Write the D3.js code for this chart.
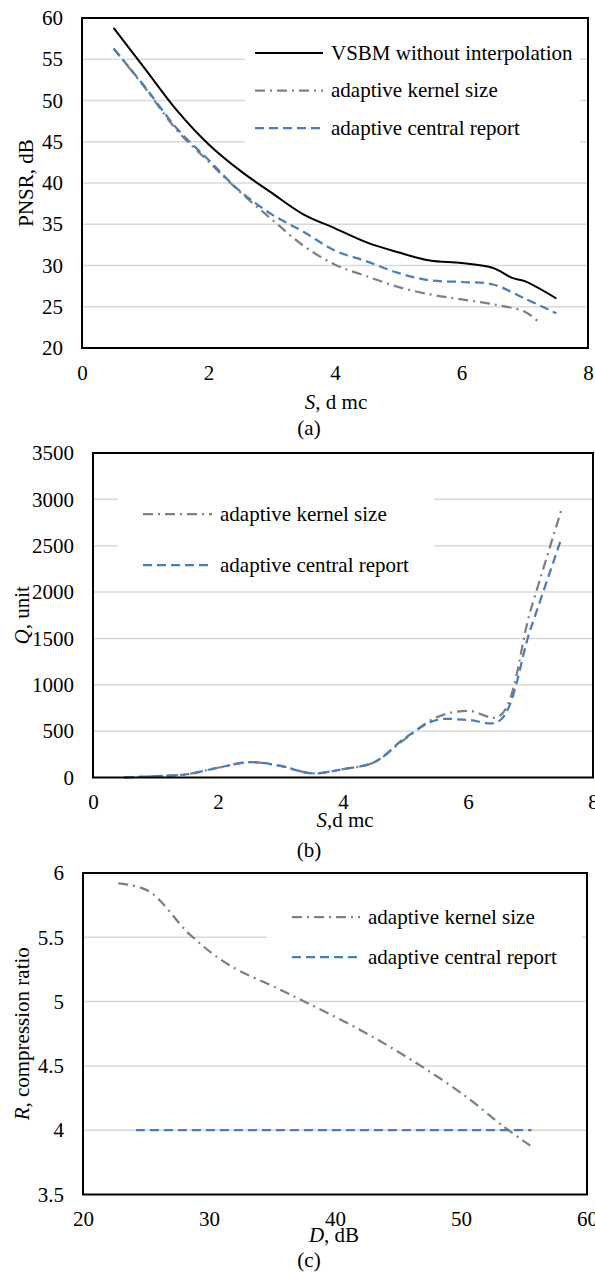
<!DOCTYPE html>
<html>
<head>
<meta charset="utf-8">
<script src="https://cdn.jsdelivr.net/npm/d3@7"></script>
<style>
    body { margin: 0; background: #fff; }
    svg text { font-family: "Liberation Serif", "Times New Roman", serif; font-size: 21px; fill: #000; }
</style>
</head>
<body>
<svg id="fig" width="595" height="1273"></svg>
<script>
// ---- (a) PSNR vs S ----
const sVsbmA = [0.5, 1, 1.5, 2, 2.5, 3, 3.5, 4, 4.5, 5, 5.5, 6, 6.5, 6.8, 7, 7.5];
const psnrVsbm = [58.8, 53.8, 48.8, 44.7, 41.5, 38.8, 36.2, 34.5, 32.8, 31.6, 30.6, 30.3, 29.7, 28.5, 28.1, 26.0];
const sKernelA = [0.5, 1, 1.5, 2, 2.5, 3, 3.5, 4, 4.5, 5, 5.5, 6, 6.5, 7, 7.2];
const psnrKernel = [56.3, 51.5, 46.4, 42.6, 38.9, 35.6, 32.4, 30.1, 28.7, 27.4, 26.5, 25.9, 25.3, 24.4, 23.3];
const sCentralA = [0.5, 1, 1.5, 2, 2.5, 3, 3.5, 4, 4.5, 5, 5.5, 6, 6.5, 7, 7.5];
const psnrCentral = [56.3, 51.6, 46.6, 42.8, 39.0, 36.2, 34.1, 31.8, 30.5, 29.1, 28.2, 28.0, 27.7, 26.0, 24.2];
const xTicksA = [0, 2, 4, 6, 8];
const yTicksA = [20, 25, 30, 35, 40, 45, 50, 55, 60];

// ---- (b) Q vs S ----
const sB = [0.5, 1, 1.5, 2, 2.5, 3, 3.5, 4, 4.5, 5, 5.5, 6, 6.5, 7, 7.5];
const qKernel = [0, 15, 35, 105, 165, 125, 45, 90, 165, 420, 650, 720, 660, 1800, 2900];
const qCentral = [0, 15, 35, 105, 165, 125, 45, 90, 165, 430, 620, 620, 610, 1600, 2590];
const xTicksB = [0, 2, 4, 6, 8];
const yTicksB = [0, 500, 1000, 1500, 2000, 2500, 3000, 3500];

// ---- (c) R vs D ----
const dKernel = [22.8, 25.2, 28.5, 31.5, 35.5, 38, 42, 46, 50, 53.5, 55.5];
const rKernel = [5.92, 5.86, 5.52, 5.29, 5.10, 4.98, 4.78, 4.55, 4.29, 4.02, 3.88];
const dCentral = [24.2, 28, 32, 36, 40, 44, 48, 52, 55.6];
const rCentral = [4, 4, 4, 4, 4, 4, 4, 4, 4];
const xTicksC = [20, 30, 40, 50, 60];
const yTicksC = [3.5, 4, 4.5, 5, 5.5, 6];

const legendNames = {
    vsbm: "VSBM without interpolation",
    kernel: "adaptive kernel size",
    central: "adaptive central report"
};

const styles = {
    vsbm: { color: "#000000", width: 2, dash: null },
    kernel: { color: "#808080", width: 2.25, dash: "10,5,2,5" },
    central: { color: "#4a7ebb", width: 2.25, dash: "9,5" }
};

const svg = d3.select("#fig");

function drawPanel(p) {
    let g = svg.append("g");

    let x = d3.scaleLinear().domain(p.xDomain).range([p.left, p.right]);
    let y = d3.scaleLinear().domain(p.yDomain).range([p.bottom, p.top]);

    // gridlines
    g.append("g").selectAll("line")
        .data(p.yTicks.filter(t => t !== p.yDomain[0] && t !== p.yDomain[1]))
        .enter().append("line")
        .attr("x1", p.left).attr("x2", p.right)
        .attr("y1", d => y(d)).attr("y2", d => y(d))
        .attr("stroke", "#d9d9d9")
        .attr("stroke-width", 1.5);

    // legend background hides gridlines
    g.append("rect")
        .attr("x", p.legend.box[0]).attr("y", p.legend.box[1])
        .attr("width", p.legend.box[2]).attr("height", p.legend.box[3])
        .attr("fill", "#fff");

    // series
    let line = d3.line()
        .x(d => x(d[0]))
        .y(d => y(d[1]))
        .curve(d3.curveCatmullRom.alpha(0.5));

    p.series.forEach(s => {
        let st = styles[s.key];
        g.append("path")
            .datum(d3.zip(s.xs, s.ys))
            .attr("d", line)
            .attr("fill", "none")
            .attr("stroke", st.color)
            .attr("stroke-width", st.width)
            .attr("stroke-dasharray", st.dash);
    });

    // frame
    g.append("rect")
        .attr("x", p.left).attr("y", p.top)
        .attr("width", p.right - p.left).attr("height", p.bottom - p.top)
        .attr("fill", "none")
        .attr("stroke", "#000")
        .attr("stroke-width", 2);

    // axes (labels only)
    let yAxis = g.append("g")
        .attr("transform", `translate(${p.left},0)`)
        .call(d3.axisLeft(y).tickValues(p.yTicks).tickSize(0).tickPadding(19).tickFormat(d => String(d)));
    let xAxis = g.append("g")
        .attr("transform", `translate(0,${p.bottom})`)
        .call(d3.axisBottom(x).tickValues(p.xTicks).tickSize(0).tickPadding(17).tickFormat(d => String(d)));
    [yAxis, xAxis].forEach(a => {
        a.attr("font-family", null).attr("font-size", null);
        a.select(".domain").remove();
    });

    // legend entries
    p.series.forEach((s, i) => {
        let st = styles[s.key];
        let ly = p.legend.y0 + i * p.legend.step;
        g.append("line")
            .attr("x1", p.legend.x1).attr("x2", p.legend.x2)
            .attr("y1", ly).attr("y2", ly)
            .attr("stroke", st.color)
            .attr("stroke-width", st.width)
            .attr("stroke-dasharray", st.dash);
        g.append("text")
            .attr("x", p.legend.x2 + 8).attr("y", ly)
            .attr("dy", "0.33em")
            .text(legendNames[s.key]);
    });

    // axis titles
    let yt = g.append("text")
        .attr("transform", `translate(${p.yTitleX},${(p.top + p.bottom) / 2}) rotate(-90)`)
        .attr("text-anchor", "middle");
    p.yTitle.forEach(t => yt.append("tspan").attr("font-style", t[1] ? "italic" : null).text(t[0]));

    let xt = g.append("text")
        .attr("x", p.xTitleX).attr("y", p.xTitleY)
        .attr("dy", "0.33em")
        .attr("text-anchor", "middle");
    p.xTitle.forEach(t => xt.append("tspan").attr("font-style", t[1] ? "italic" : null).text(t[0]));

    g.append("text")
        .attr("x", 309).attr("y", p.captionY)
        .attr("dy", "0.33em")
        .attr("text-anchor", "middle")
        .text(p.caption);
}

drawPanel({
    left: 82, right: 588, top: 18, bottom: 348,
    xDomain: [0, 8], yDomain: [20, 60],
    xTicks: xTicksA, yTicks: yTicksA,
    series: [
        { key: "vsbm", xs: sVsbmA, ys: psnrVsbm },
        { key: "kernel", xs: sKernelA, ys: psnrKernel },
        { key: "central", xs: sCentralA, ys: psnrCentral }
    ],
    legend: { box: [245, 30, 335, 128], x1: 255, x2: 323, y0: 53, step: 37.5 },
    yTitle: [["PNSR, dB", false]], yTitleX: 33,
    xTitle: [["S", true], [", d mc", false]], xTitleX: 336, xTitleY: 402,
    caption: "(a)", captionY: 428
});

drawPanel({
    left: 93, right: 593, top: 453, bottom: 777.5,
    xDomain: [0, 8], yDomain: [0, 3500],
    xTicks: xTicksB, yTicks: yTicksB,
    series: [
        { key: "kernel", xs: sB, ys: qKernel },
        { key: "central", xs: sB, ys: qCentral }
    ],
    legend: { box: [118, 470, 316, 110], x1: 143, x2: 212, y0: 514, step: 51 },
    yTitle: [["Q", true], [", unit", false]], yTitleX: 29,
    xTitle: [["S", true], [",d mc", false]], xTitleX: 345, xTitleY: 820,
    caption: "(b)", captionY: 850
});

drawPanel({
    left: 83, right: 587, top: 873, bottom: 1194.5,
    xDomain: [20, 60], yDomain: [3.5, 6],
    xTicks: xTicksC, yTicks: yTicksC,
    series: [
        { key: "kernel", xs: dKernel, ys: rKernel },
        { key: "central", xs: dCentral, ys: rCentral }
    ],
    legend: { box: [267, 892, 315, 90], x1: 292, x2: 360, y0: 917, step: 40 },
    yTitle: [["R", true], [", compression ratio", false]], yTitleX: 29,
    xTitle: [["D", true], [", dB", false]], xTitleX: 334, xTitleY: 1235,
    caption: "(c)", captionY: 1260
});
</script>
</body>
</html>
